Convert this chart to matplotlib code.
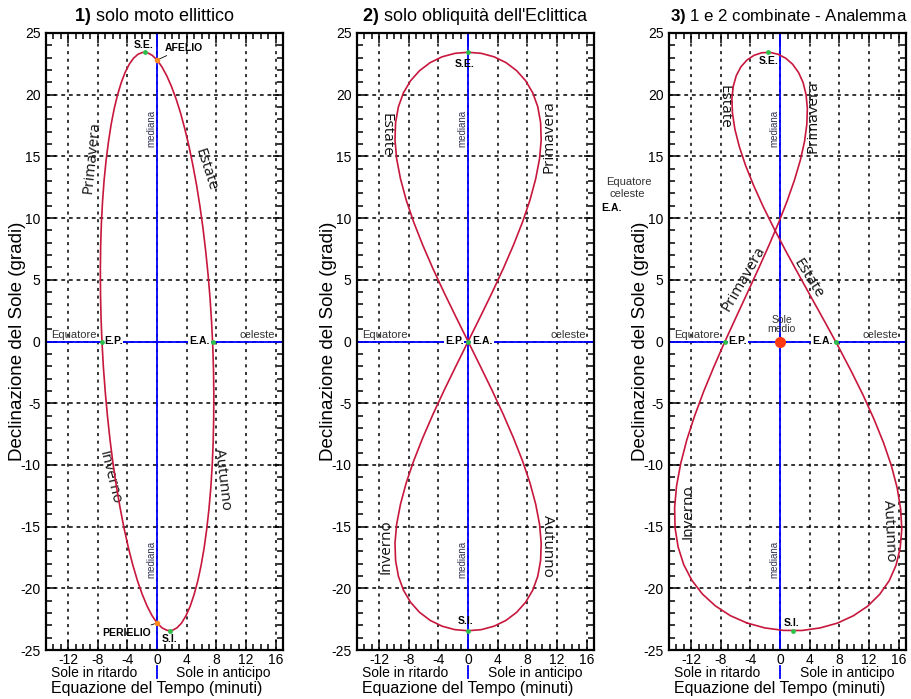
import matplotlib
matplotlib.use("Agg")
import matplotlib.pyplot as plt
from matplotlib.ticker import MultipleLocator

plt.rcParams.update({"font.family": "Liberation Sans", "axes.unicode_minus": False,
                     "mathtext.fontset": "custom", "mathtext.rm": "Liberation Sans",
                     "mathtext.bf": "Liberation Sans:bold"})

# declinazione del sole (gradi), un punto ogni ~5 giorni a partire dal perielio
decl = [-22.81, -22.22, -21.43, -20.47, -19.35, -18.07, -16.65, -15.11, -13.46, -11.71, -9.89, -8.00,
        -6.06, -4.08, -2.09, -0.08, 1.92, 3.90, 5.86, 7.76, 9.61, 11.40, 13.10, 14.71,
        16.21, 17.61, 18.87, 19.99, 20.98, 21.80, 22.47, 22.96, 23.28, 23.43, 23.40, 23.19,
        22.81, 22.26, 21.54, 20.67, 19.65, 18.49, 17.19, 15.78, 14.26, 12.64, 10.94, 9.17,
        7.33, 5.44, 3.51, 1.55, -0.42, -2.40, -4.36, -6.31, -8.21, -10.07, -11.87, -13.59,
        -15.21, -16.73, -18.12, -19.39, -20.50, -21.45, -22.22, -22.82, -23.21, -23.42, -23.41, -23.21]
# 1) solo moto ellittico: equazione del tempo (minuti)
ecc_x = [0.00, -0.68, -1.36, -2.02, -2.67, -3.30, -3.90, -4.47, -5.00, -5.50, -5.95, -6.35,
         -6.70, -7.00, -7.25, -7.44, -7.57, -7.64, -7.66, -7.62, -7.52, -7.36, -7.15, -6.88,
         -6.56, -6.20, -5.79, -5.34, -4.84, -4.32, -3.76, -3.18, -2.57, -1.94, -1.30, -0.65,
         0.00, 0.65, 1.30, 1.94, 2.57, 3.18, 3.76, 4.32, 4.84, 5.34, 5.79, 6.20,
         6.56, 6.88, 7.15, 7.36, 7.52, 7.62, 7.66, 7.64, 7.57, 7.44, 7.25, 7.00,
         6.70, 6.35, 5.95, 5.50, 5.00, 4.47, 3.90, 3.30, 2.67, 2.02, 1.36, 0.68]
# 3) analemma: equazione del tempo completa (minuti)
anal_x = [-4.47, -6.71, -8.73, -10.48, -11.92, -13.02, -13.77, -14.18, -14.24, -13.98, -13.42, -12.61,
          -11.56, -10.34, -8.97, -7.51, -5.98, -4.45, -2.95, -1.53, -0.21, 0.96, 1.95, 2.74,
          3.30, 3.61, 3.68, 3.51, 3.11, 2.49, 1.69, 0.75, -0.29, -1.38, -2.47, -3.52,
          -4.47, -5.29, -5.92, -6.33, -6.51, -6.43, -6.10, -5.50, -4.66, -3.57, -2.29, -0.83,
          0.77, 2.49, 4.27, 6.08, 7.87, 9.60, 11.22, 12.69, 13.97, 15.03, 15.81, 16.28,
          16.43, 16.22, 15.66, 14.73, 13.43, 11.82, 9.91, 7.75, 5.41, 2.94, 0.43, -2.07]
# 2) solo obliquita': minuti / gradi
obl_x = [0, 1.64, 3.24, 4.75, 6.13, 7.35, 8.36, 9.13, 9.65, 9.87, 9.79, 9.41,
         8.73, 7.77, 6.55, 5.12, 3.51, 1.79, 0, -1.79, -3.51, -5.12, -6.55, -7.77,
         -8.73, -9.41, -9.79, -9.87, -9.65, -9.13, -8.36, -7.35, -6.13, -4.75, -3.24, -1.64,
         0, 1.64, 3.24, 4.75, 6.13, 7.35, 8.36, 9.13, 9.65, 9.87, 9.79, 9.41,
         8.73, 7.77, 6.55, 5.12, 3.51, 1.79, 0, -1.79, -3.51, -5.12, -6.55, -7.77,
         -8.73, -9.41, -9.79, -9.87, -9.65, -9.13, -8.36, -7.35, -6.13, -4.75, -3.24, -1.64]
obl_y = [0, 1.99, 3.96, 5.91, 7.82, 9.68, 11.47, 13.19, 14.82, 16.34, 17.74, 19.02,
         20.15, 21.13, 21.95, 22.60, 23.07, 23.35, 23.44, 23.35, 23.07, 22.60, 21.95, 21.13,
         20.15, 19.02, 17.74, 16.34, 14.82, 13.19, 11.47, 9.68, 7.82, 5.91, 3.96, 1.99,
         0, -1.99, -3.96, -5.91, -7.82, -9.68, -11.47, -13.19, -14.82, -16.34, -17.74, -19.02,
         -20.15, -21.13, -21.95, -22.60, -23.07, -23.35, -23.44, -23.35, -23.07, -22.60, -21.95, -21.13,
         -20.15, -19.02, -17.74, -16.34, -14.82, -13.19, -11.47, -9.68, -7.82, -5.91, -3.96, -1.99]

# punti notevoli
p1_green = ([-1.63, 1.70, -7.45, 7.49], [23.44, -23.44, 0, 0])   # S.E., S.I., E.P., E.A.
p1_orange = ([0, 0], [22.81, -22.81])                            # afelio, perielio
p2_green = ([0, 0, 0], [23.44, -23.44, 0])
p3_green = ([-1.63, 1.70, -7.45, 7.49], [23.44, -23.44, 0, 0])
sole_medio = ([0], [0])

RED, BLUE, GREEN, ORANGE = "#c8173d", "#0000ff", "#2ec04a", "#ff8a1e"
SEA = dict(family="Open Sans", fontsize=11, color="#111111", ha="center", va="center")
BOLD = dict(fontsize=7.5, fontweight="bold", va="center", zorder=3,
            bbox=dict(fc="white", ec="none", pad=0.6))

fig = plt.figure(figsize=(9.11, 6.99), dpi=100)
W, H, B = 237/911, 617/699, 49/699
axs = [fig.add_axes([l/911, B, W, H]) for l in (46, 357, 669)]

def base(ax, num, txt, tx, tsize=13):
    ax.set_xlim(-15, 17); ax.set_ylim(-25, 25)
    ax.xaxis.set_major_locator(MultipleLocator(4)); ax.xaxis.set_minor_locator(MultipleLocator(1))
    ax.yaxis.set_major_locator(MultipleLocator(5)); ax.yaxis.set_minor_locator(MultipleLocator(1))
    ax.tick_params(which="both", direction="in", top=True, right=True, width=1.1, labelsize=10, pad=4)
    ax.tick_params(axis="x", pad=2)
    ax.tick_params(which="major", length=7); ax.tick_params(which="minor", length=4)
    for s in ax.spines.values(): s.set_linewidth(1.6)
    ax.grid(axis="x", color="k", lw=1.1, linestyle=(0, (2, 3)))
    ax.grid(axis="y", color="k", lw=1.1, linestyle=(0, (2.5, 2.5)))
    ax.axvline(0, color=BLUE, lw=1.3, zorder=2); ax.axhline(0, color=BLUE, lw=1.3, zorder=2)
    for y in (17.3, -17.7):
        ax.text(-0.75, y, "mediana", rotation=90, fontsize=7, ha="center", va="center", color="#333355")
    ax.text(-11.3, 0.55, "Equatore", fontsize=8, ha="center", va="center", color="#333333")
    ax.text(13.5, 0.55, "celeste", fontsize=8, ha="center", va="center", color="#333333")
    tr = ax.get_xaxis_transform()
    ax.text(-8.5, -0.038, "Sole in ritardo", transform=tr, ha="center", va="center", fontsize=10)
    ax.text(9.0, -0.038, "Sole in anticipo", transform=tr, ha="center", va="center", fontsize=10)
    ax.plot([0, 0], [-0.026, -0.046], transform=tr, clip_on=False, color=BLUE, lw=1.3)
    ax.text(0, -0.062, "Equazione del Tempo (minuti)", transform=tr, ha="center", va="center", fontsize=11.5)
    ax.text(-0.122, 0.5, "Declinazione del Sole (gradi)", transform=ax.transAxes, rotation=90,
            ha="center", va="center", fontsize=13.5)
    ax.text(tx, 1.026, r"$\mathbf{" + num + ")}$ " + txt, transform=ax.transAxes,
            ha="center", va="center", fontsize=tsize)

# ---- 1) solo moto ellittico ----
ax = axs[0]
base(ax, "1", "solo moto ellittico", 0.458)
ax.plot(ecc_x + ecc_x[:1], decl + decl[:1], color=RED, lw=1.2, zorder=4)
ax.plot(*p1_green, "o", color=GREEN, ms=3.5, mew=0, zorder=6)
ax.plot(*p1_orange, "o", color=ORANGE, ms=4, mew=0, zorder=6)
ax.text(-1.85, 24.0, "S.E.", ha="center", fontsize=7.5, fontweight="bold", va="center")
ax.text(1.7, -24.1, "S.I.", ha="center", fontsize=7.5, fontweight="bold", va="center")
ax.annotate("AFELIO", xy=(0, 22.81), xytext=(1.0, 23.8), fontsize=7.5, fontweight="bold", va="center",
            ha="left", arrowprops=dict(arrowstyle="-", lw=0.6, shrinkA=0, shrinkB=1))
ax.annotate("PERIELIO", xy=(0, -22.81), xytext=(-0.8, -23.6), fontsize=7.5, fontweight="bold",
            va="center", ha="right", arrowprops=dict(arrowstyle="-", lw=0.6, shrinkA=0, shrinkB=1))
ax.text(-7.2, 0, "E.P.", ha="left", **BOLD)
ax.text(7.1, 0, "E.A.", ha="right", **BOLD)
ax.text(-8.8, 14.9, "Primavera", rotation=84, **SEA)
ax.text(6.5, 13.9, "Estate", rotation=-72, **SEA)
ax.text(-6.4, -11.0, "Inverno", rotation=-76, **SEA)
ax.text(8.8, -11.2, "Autunno", rotation=-83, **SEA)

# ---- 2) solo obliquita' ----
ax = axs[1]
base(ax, "2", "solo obliquità dell'Eclittica", 0.5)
ax.plot(obl_x + obl_x[:1], obl_y + obl_y[:1], color=RED, lw=1.2, zorder=4)
ax.plot(*p2_green, "o", color=GREEN, ms=3.5, mew=0, zorder=6)
ax.text(-0.5, 22.45, "S.E.", ha="center", fontsize=7.5, fontweight="bold", va="center")
ax.text(-0.3, -22.65, "S.I.", ha="center", fontsize=7.5, fontweight="bold", va="center")
ax.text(-0.6, 0, "E.P.", ha="right", **BOLD)
ax.text(0.55, 0, "E.A.", ha="left", **BOLD)
ax.text(-11.1, 16.7, "Estate", rotation=-90, **SEA)
ax.text(10.9, 16.6, "Primavera", rotation=90, **SEA)
ax.text(-11.1, -16.6, "Inverno", rotation=90, **SEA)
ax.text(10.7, -16.6, "Autunno", rotation=-90, **SEA)

# ---- 3) analemma ----
ax = axs[2]
base(ax, "3", "1 e 2 combinate - Analemma", 0.505, tsize=12.2)
ax.plot(anal_x + anal_x[:1], decl + decl[:1], color=RED, lw=1.2, zorder=4)
ax.plot(*p3_green, "o", color=GREEN, ms=3.5, mew=0, zorder=6)
ax.plot(*sole_medio, "o", color="#ff3a10", ms=8, mew=0, zorder=6)
ax.text(-1.6, 22.75, "S.E.", ha="center", fontsize=7.5, fontweight="bold", va="center")
ax.text(1.5, -22.8, "S.I.", ha="center", fontsize=7.5, fontweight="bold", va="center")
ax.text(-6.95, 0, "E.P.", ha="left", **BOLD)
ax.text(7.1, 0, "E.A.", ha="right", **BOLD)
ax.text(0.2, 1.35, "Sole\nmedio", fontsize=7.5, ha="center", va="center", color="#333333", linespacing=0.9)
ax.text(-7.6, 19.0, "Estate", rotation=-90, **SEA)
ax.text(4.5, 18.2, "Primavera", rotation=90, **SEA)
ax.text(-4.95, 5.1, "Primavera", rotation=60, **SEA)
ax.text(3.75, 5.1, "Estate", rotation=-58, **SEA)
ax.text(-12.5, -13.8, "Inverno", rotation=90, **SEA)
ax.text(14.7, -15.3, "Autunno", rotation=-87, **SEA)

fig.text(629/911, 1 - 182/699, "Equatore", ha="center", va="center", fontsize=8, color="#333333")
fig.text(627/911, 1 - 194/699, "celeste", ha="center", va="center", fontsize=8, color="#333333")
fig.text(612/911, 1 - 208/699, "E.A.", ha="center", va="center", fontsize=7.5, fontweight="bold")

fig.savefig("out.png", dpi=100)
